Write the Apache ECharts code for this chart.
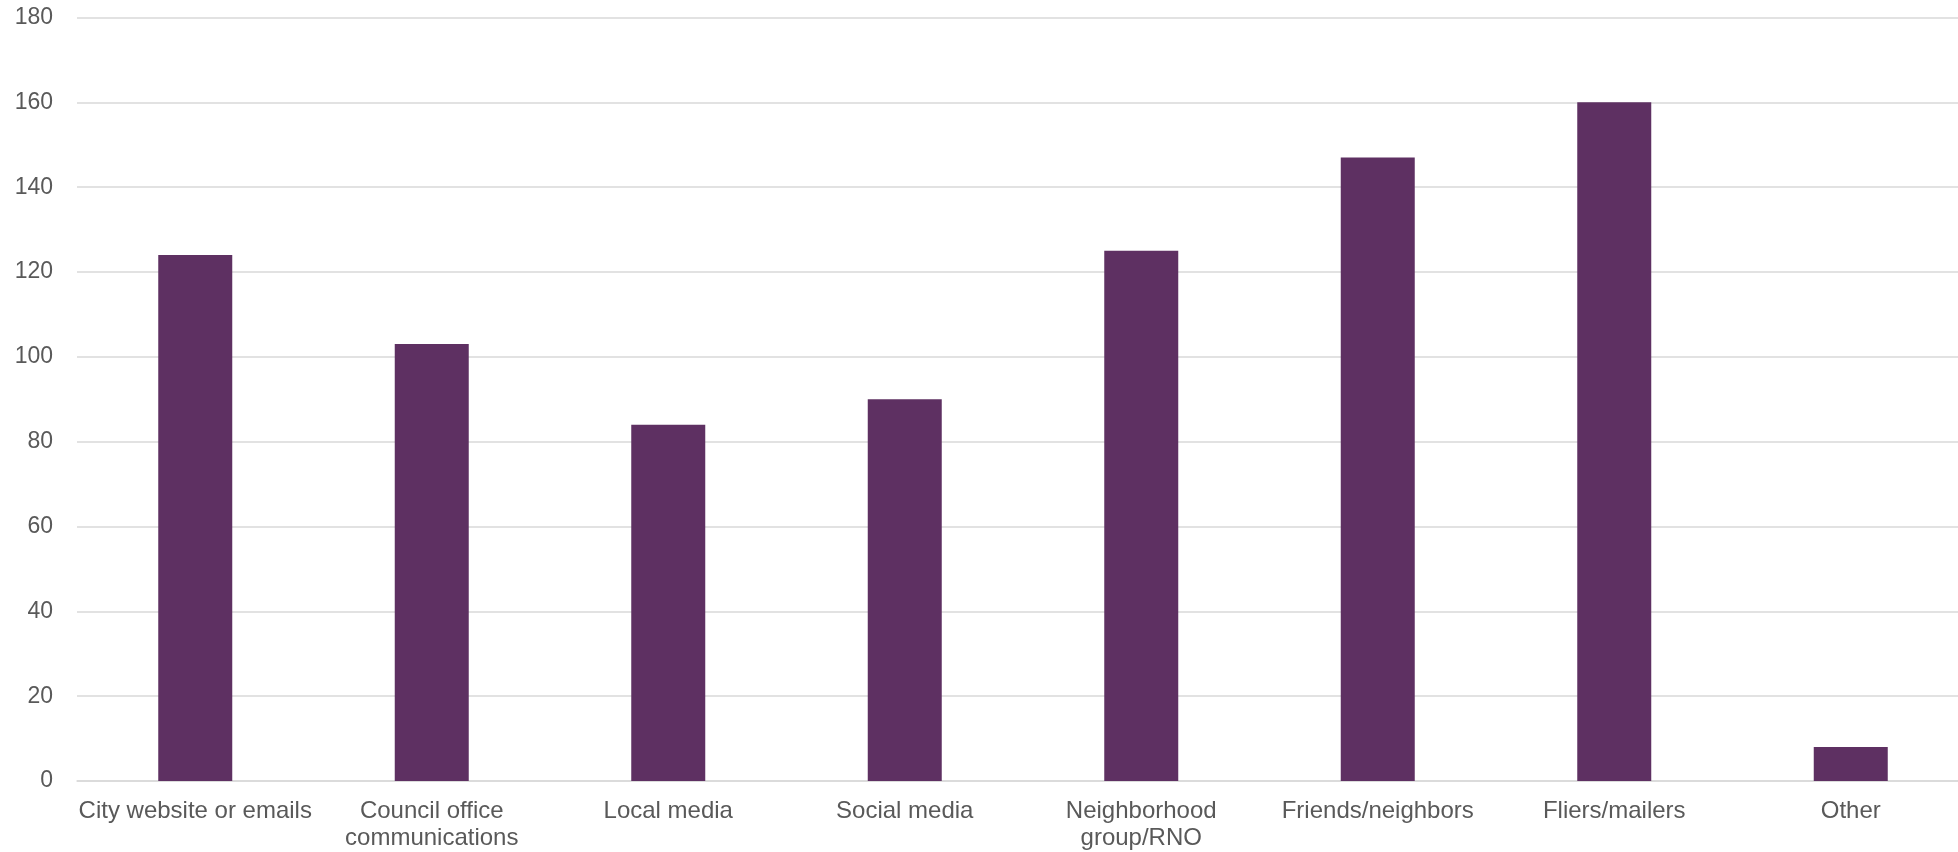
<!DOCTYPE html>
<html>
<head>
<meta charset="utf-8">
<script src="https://cdn.jsdelivr.net/npm/echarts@6/dist/echarts.min.js"></script>
<style>
html,body{margin:0;padding:0;background:#fff;overflow:hidden;}
#chart{width:1969px;height:852px;}
</style>
</head>
<body>
<div id="chart"></div>
<script>
const categories = ['City website or emails', 'Council office\ncommunications', 'Local media', 'Social media', 'Neighborhood\ngroup/RNO', 'Friends/neighbors', 'Fliers/mailers', 'Other'];
const values = [124, 103, 84, 90, 125, 147, 160, 8];
const yMin = 0, yMax = 180, yStep = 20;

const chart = echarts.init(document.getElementById('chart'), null, {renderer: 'canvas'});
chart.setOption({
  animation: false,
  backgroundColor: '#ffffff',
  grid: {left: 77, top: 17.5, bottom: 70.5, right: 0, containLabel: false},
  xAxis: {
    type: 'category',
    data: categories,
    axisTick: {show: false},
    axisLine: {show: true, lineStyle: {color: '#d9d9d9', width: 1.5}},
    axisLabel: {
      interval: 0,
      margin: 17,
      color: '#595959',
      fontFamily: 'Liberation Sans, Arial, sans-serif',
      fontSize: 24,
      lineHeight: 27
    }
  },
  yAxis: {
    type: 'value',
    min: yMin, max: yMax, interval: yStep,
    axisLine: {show: false},
    axisTick: {show: false},
    splitLine: {show: true, lineStyle: {color: '#d9d9d9', width: 1.5}},
    axisLabel: {
      margin: 24,
      color: '#595959',
      fontFamily: 'Liberation Sans, Arial, sans-serif',
      fontSize: 23
    }
  },
  series: [{
    type: 'bar',
    data: values,
    barWidth: 74,
    itemStyle: {color: '#5e3062'}
  }]
});
</script>
</body>
</html>
